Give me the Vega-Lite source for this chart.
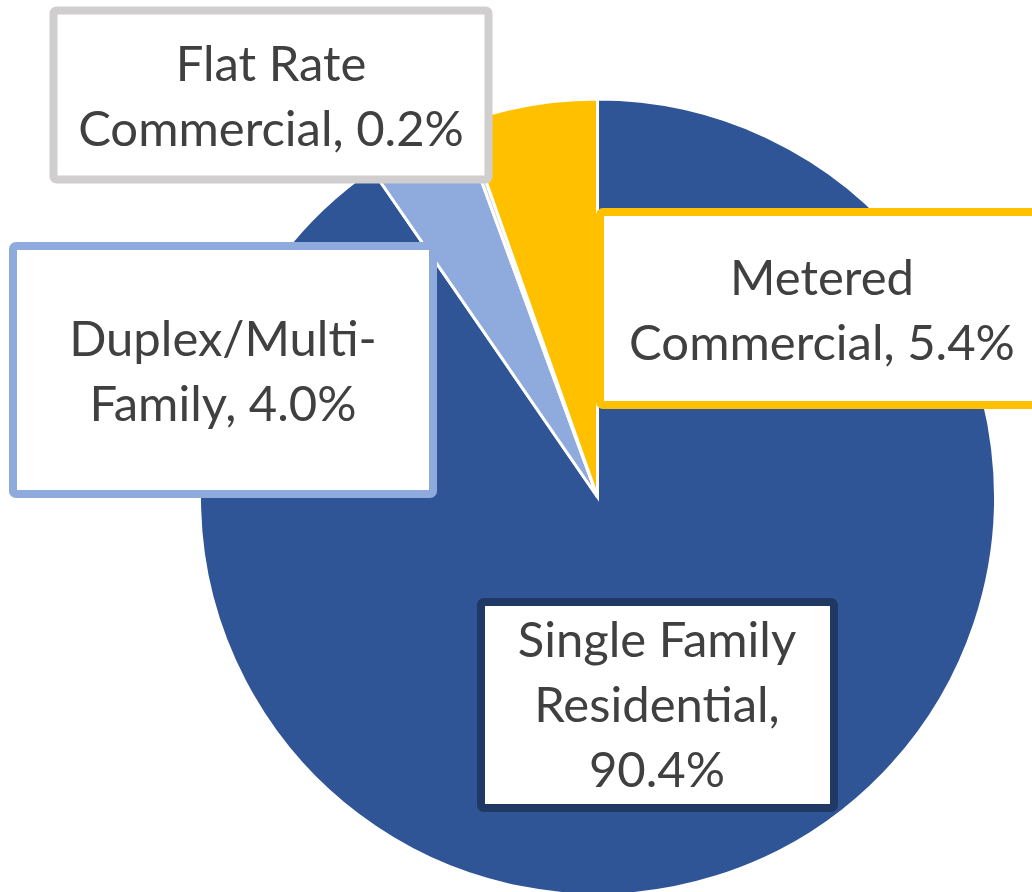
{
  "$schema": "https://vega.github.io/schema/vega-lite/v6.json",
  "width": 1032,
  "height": 892,
  "autosize": "none",
  "padding": 0,
  "background": "white",
  "config": {"view": {"stroke": null}},
  "datasets": {
    "slices": [
      {"category": "Single Family Residential", "share": 90.4, "rank": 1},
      {"category": "Duplex/Multi-Family", "share": 4.0, "rank": 2},
      {"category": "Flat Rate Commercial", "share": 0.2, "rank": 3},
      {"category": "Metered Commercial", "share": 5.4, "rank": 4}
    ],
    "labels": [
      {"category": "Single Family Residential", "text": "Single Family\nResiden\u200Ctial,\n90.4%", "bx1": -0.29271, "bx2": 0.59422, "by1": -0.26382, "by2": -0.78141, "tx": 0.1495, "ty": -0.40201},
      {"category": "Duplex/Multi-Family", "text": "Duplex/Multi-\nFamily, 4.0%", "bx1": -1.46859, "bx2": -0.41332, "by1": 0.63065, "by2": 0.00754, "tx": -0.94095, "ty": 0.35427},
      {"category": "Flat Rate Commercial", "text": "Flat Rate\nCommercial, 0.2%", "bx1": -1.36683, "bx2": -0.27387, "by1": 1.22236, "by2": 0.79774, "tx": -0.82035, "ty": 1.04523},
      {"category": "Metered Commercial", "text": "Metered\nCommercial, 5.4%", "bx1": 0.00628, "bx2": 1.1093, "by1": 0.71608, "by2": 0.23116, "tx": 0.56407, "ty": 0.50754}
    ]
  },
  "layer": [
    {
      "data": {"name": "slices"},
      "mark": {"type": "arc", "outerRadius": 398, "stroke": "white", "strokeWidth": 3},
      "encoding": {
        "x": {"datum": 0, "type": "quantitative", "scale": {"domain": [-1.50126, 1.09171], "nice": false, "zero": false}, "axis": null},
        "y": {"datum": 0, "type": "quantitative", "scale": {"domain": [-0.99246, 1.24874], "nice": false, "zero": false}, "axis": null},
        "theta": {"field": "share", "type": "quantitative", "stack": true},
        "order": {"field": "rank", "type": "quantitative"},
        "color": {
          "field": "category",
          "type": "nominal",
          "scale": {
            "domain": ["Single Family Residential", "Duplex/Multi-Family", "Flat Rate Commercial", "Metered Commercial"],
            "range": ["#2F5597", "#8FAADC", "#D0CECE", "#FFC000"]
          },
          "legend": null
        }
      }
    },
    {
      "data": {"name": "labels"},
      "mark": {"type": "rect", "fill": "white", "strokeWidth": 8, "cornerRadius": 3},
      "encoding": {
        "x": {"field": "bx1", "type": "quantitative"},
        "x2": {"field": "bx2"},
        "y": {"field": "by1", "type": "quantitative"},
        "y2": {"field": "by2"},
        "stroke": {
          "field": "category",
          "type": "nominal",
          "scale": {
            "domain": ["Single Family Residential", "Duplex/Multi-Family", "Flat Rate Commercial", "Metered Commercial"],
            "range": ["#203864", "#8FAADC", "#D0CECE", "#FFC000"]
          },
          "legend": null
        }
      }
    },
    {
      "data": {"name": "labels"},
      "mark": {"type": "text", "font": "Lato", "fontSize": 49, "lineHeight": 65, "lineBreak": "\n", "align": "center", "baseline": "alphabetic", "color": "#404040"},
      "encoding": {
        "x": {"field": "tx", "type": "quantitative"},
        "y": {"field": "ty", "type": "quantitative"},
        "text": {"field": "text", "type": "nominal"}
      }
    }
  ]
}
